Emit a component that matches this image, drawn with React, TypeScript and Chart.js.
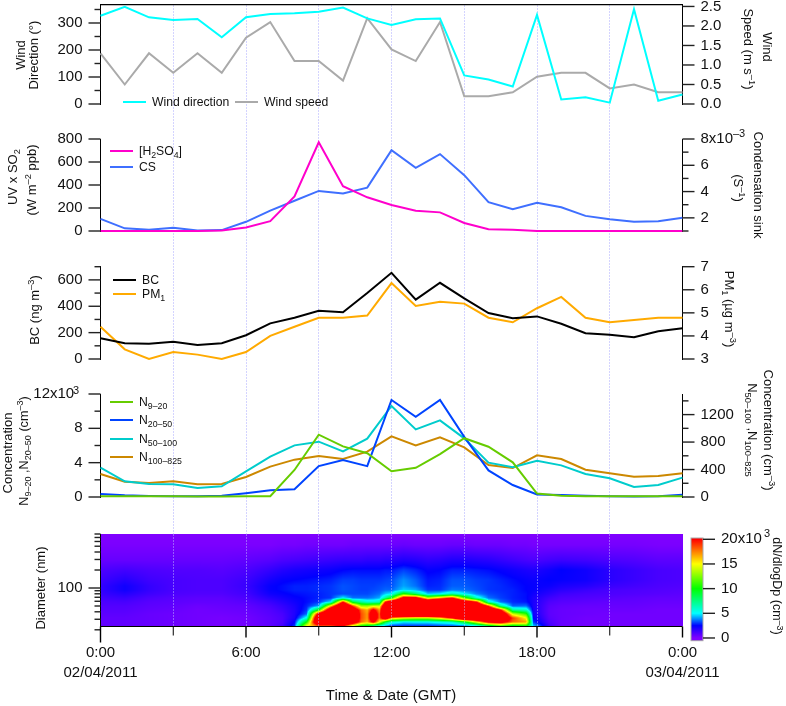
import React, { useEffect, useRef } from 'react';
import { Chart, registerables } from 'chart.js';

Chart.register(...registerables);
Chart.defaults.font.family = '"Liberation Sans", Arial, sans-serif';
Chart.defaults.color = '#111';

const hours = [0, 1, 2, 3, 4, 5, 6, 7, 8, 9, 10, 11, 12, 13, 14, 15, 16, 17, 18, 19, 20, 21, 22, 23, 24];

const windDirection = [327, 360, 321, 311, 315, 247, 321, 333, 336, 342, 357, 317, 293, 314, 317, 106, 91, 65, 330, 17, 25, 5, 351, 12, 35];
const windSpeed = [1.3, 0.5, 1.3, 0.8, 1.3, 0.8, 1.7, 2.1, 1.1, 1.1, 0.6, 2.2, 1.4, 1.1, 2.1, 0.2, 0.2, 0.3, 0.7, 0.8, 0.8, 0.4, 0.5, 0.3, 0.3];
const h2so4 = [0, 0, 0, 0, 0, 5, 30, 85, 300, 771, 390, 293, 226, 177, 162, 70, 15, 10, 0, 0, 0, 0, 0, 0, 0];
const condensationSink = [1.92, 1.2, 1.1, 1.25, 1.03, 1.07, 1.7, 2.55, 3.3, 4.05, 3.85, 4.3, 7.15, 5.8, 6.85, 5.25, 3.2, 2.65, 3.15, 2.8, 2.15, 1.9, 1.7, 1.75, 2];
const bc = [158, 120, 115, 130, 107, 120, 180, 270, 313, 366, 354, 500, 654, 450, 578, 460, 349, 310, 323, 267, 196, 183, 165, 211, 234];
const pm1 = [4.4, 3.42, 3, 3.3, 3.19, 3, 3.3, 4, 4.4, 4.79, 4.79, 4.88, 6.29, 5.3, 5.48, 5.4, 4.79, 4.59, 5.2, 5.69, 4.79, 4.59, 4.69, 4.79, 4.79];
const n9to20 = [100, 100, 90, 80, 70, 70, 80, 100, 3150, 7260, 5900, 5100, 3000, 3400, 5000, 6850, 5860, 4040, 400, 150, 100, 80, 80, 80, 100];
const n20to50 = [350, 200, 120, 80, 100, 150, 450, 800, 900, 3600, 4300, 3600, 11300, 9350, 11300, 7000, 3100, 1400, 300, 230, 150, 80, 50, 100, 270];
const n50to100 = [427, 228, 189, 184, 131, 155, 374, 587, 752, 806, 665, 850, 1325, 985, 1116, 854, 500, 432, 529, 461, 335, 272, 146, 175, 282];
const n100to825 = [335, 223, 204, 228, 184, 189, 291, 442, 544, 597, 553, 660, 883, 752, 869, 723, 466, 422, 607, 553, 398, 345, 296, 306, 345];

// size distribution, dN/dlogDp in 10^3 cm-3: one row per time, top diameter first
const diameters = [800, 524, 294, 200, 136, 108, 92.6, 79.4, 68, 58.3, 50, 42.9, 36.8, 31.5, 27, 23.2];
const sizeTimes = [0, 1, 2, 3, 4, 5, 6, 7, 7.5, 8, 8.5, 9, 9.5, 10, 10.4, 10.75, 11, 11.25, 11.5, 11.75, 12, 12.5, 13, 13.5, 14, 14.5, 15, 15.5, 16, 16.5, 17, 17.55, 17.85, 18.5, 19, 20, 21, 22, 23, 24];
const dNdlogDp = [
  [0, 0.1, 0.5, 1, 1.3, 1.5, 1.5, 1.4, 1.2, 1, 0.9, 0.8, 0.7, 0.6, 0.6, 0.6],
  [0, 0.1, 0.5, 1.2, 1.8, 2.2, 2.2, 1.8, 1.4, 1.1, 0.9, 0.8, 0.7, 0.6, 0.6, 0.6],
  [0, 0.1, 0.5, 1, 1.3, 1.5, 1.5, 1.3, 1, 0.8, 0.7, 0.6, 0.5, 0.5, 0.5, 0.5],
  [0, 0.1, 0.5, 0.9, 1.1, 1.1, 1.1, 1, 0.8, 0.7, 0.6, 0.5, 0.4, 0.4, 0.4, 0.4],
  [0, 0.1, 0.5, 0.9, 1, 1, 1, 0.9, 0.7, 0.6, 0.4, 0.3, 0.3, 0.3, 0.3, 0.3],
  [0, 0.1, 0.5, 0.8, 1, 1, 1, 0.9, 0.7, 0.6, 0.5, 0.4, 0.3, 0.2, 0.2, 0.2],
  [0, 0.1, 0.6, 1, 1.3, 1.4, 1.3, 1.2, 1, 0.8, 0.6, 0.5, 0.4, 0.3, 0.3, 0.3],
  [0, 0.1, 0.8, 1.5, 2.1, 2.4, 2.4, 2.2, 1.8, 1.4, 1.1, 0.9, 0.8, 0.7, 0.7, 0.7],
  [0, 0.2, 1, 1.8, 2.4, 2.6, 2.6, 2.4, 2.1, 1.8, 1.5, 1.3, 1.1, 1, 1, 1.2],
  [0, 0.2, 1.1, 2, 2.5, 2.8, 2.8, 2.6, 2.4, 2.2, 2, 1.9, 1.9, 2, 2.5, 3],
  [0, 0.3, 1.2, 2.1, 2.6, 2.8, 2.8, 2.7, 2.6, 2.6, 2.8, 3, 3.5, 5.5, 10, 15],
  [0, 0.3, 1.3, 2.2, 2.7, 2.9, 2.9, 2.8, 2.8, 3, 4, 10, 22, 27, 27, 18],
  [0, 0.3, 1.4, 2.3, 2.8, 3, 3, 3, 3, 5, 16, 25, 28, 28, 27, 18],
  [0, 0.3, 1.5, 2.5, 3.1, 3.3, 3.3, 3.2, 5, 20, 28, 30, 30, 30, 28, 20],
  [0, 0.4, 1.5, 2.6, 3.1, 3.2, 3.2, 3.2, 3.6, 9, 19, 24, 26, 26, 24, 14],
  [0, 0.4, 1.5, 2.6, 3, 3.1, 3.1, 3.2, 3.6, 7, 13, 18, 18.5, 18.5, 18, 10],
  [0, 0.4, 1.6, 2.6, 3, 3.1, 3.1, 3.2, 3.6, 6, 13, 16.5, 17, 17, 16.5, 9],
  [0, 0.4, 1.6, 2.6, 3, 3.1, 3.2, 3.4, 3.8, 6, 14, 21, 24, 24, 21, 7],
  [0, 0.4, 1.6, 2.6, 3, 3.2, 3.3, 3.6, 4.2, 6.5, 14, 17, 18, 18, 15, 5.5],
  [0, 0.4, 1.7, 2.7, 3.1, 3.3, 3.5, 4.5, 7, 20, 26, 28, 28, 24, 9, 4],
  [0, 0.4, 1.7, 2.7, 3.2, 3.3, 3.5, 5, 10, 24, 30, 30, 30, 17, 6, 3],
  [0, 0.5, 1.9, 3.1, 3.9, 4.1, 4.6, 11, 22, 30, 30, 30, 30, 15, 4.8, 3],
  [0, 0.4, 1.8, 2.8, 3.4, 3.6, 4.2, 8, 22, 30, 30, 30, 30, 14, 5, 3],
  [0, 0.4, 1.6, 2.4, 2.7, 2.8, 3, 4.5, 14, 27, 30, 30, 30, 14, 5, 3],
  [0, 0.4, 1.7, 2.5, 2.8, 2.9, 3, 5, 17, 30, 30, 30, 30, 16, 5.5, 3.2],
  [0, 0.5, 1.9, 2.8, 3.3, 3.4, 3.7, 6.5, 20, 30, 30, 30, 30, 20, 6, 3.3],
  [0, 0.5, 1.9, 2.8, 3.3, 3.4, 3.6, 5, 12, 24, 30, 30, 30, 27, 9, 3.5],
  [0, 0.4, 1.8, 2.7, 3.1, 3.2, 3.3, 3.8, 6, 20, 28, 30, 30, 28, 15, 4.5],
  [0, 0.4, 1.7, 2.6, 3, 3, 3, 3.2, 3.6, 6, 19, 27, 28, 27, 21, 8],
  [0, 0.4, 1.5, 2.4, 2.8, 2.9, 2.9, 3, 3.1, 3.6, 7, 20, 26, 26, 22, 11],
  [0, 0.3, 1.3, 2.2, 2.6, 2.7, 2.8, 2.8, 2.8, 2.9, 3.4, 7, 14, 19, 18, 9],
  [0, 0.3, 1.1, 2, 2.4, 2.5, 2.5, 2.6, 2.6, 2.7, 3.6, 6, 11, 15, 17, 10],
  [0, 0.2, 1, 1.9, 2.3, 2.4, 2.4, 2.2, 2, 2, 2, 2.1, 2.2, 2.5, 3, 4.5],
  [0, 0.2, 1.2, 2.2, 2.5, 2.3, 2, 1.7, 1.3, 1, 0.8, 0.7, 0.7, 0.8, 1, 1.3],
  [0, 0.2, 1.3, 2.5, 2.4, 2, 1.7, 1.3, 1, 0.8, 0.6, 0.5, 0.5, 0.5, 0.5, 0.5],
  [0, 0.2, 1.2, 2.2, 2.2, 1.8, 1.4, 1.1, 0.9, 0.7, 0.5, 0.4, 0.4, 0.3, 0.3, 0.3],
  [0, 0.2, 1, 1.7, 1.7, 1.4, 1.1, 1, 0.8, 0.6, 0.5, 0.4, 0.3, 0.3, 0.3, 0.3],
  [0, 0.2, 0.9, 1.4, 1.4, 1.2, 1, 0.9, 0.7, 0.6, 0.5, 0.4, 0.3, 0.3, 0.3, 0.3],
  [0, 0.1, 0.7, 1.1, 1.1, 1, 0.9, 0.8, 0.6, 0.5, 0.4, 0.3, 0.3, 0.3, 0.3, 0.3],
  [0, 0.1, 0.7, 1, 1, 0.9, 0.8, 0.7, 0.6, 0.5, 0.4, 0.3, 0.3, 0.3, 0.3, 0.3],
];
const colorStops = [0, 2.5, 5, 10, 15, 20];
const colorValues = [[128, 0, 255], [0, 0, 255], [0, 255, 255], [0, 255, 0], [255, 255, 0], [255, 0, 0]];
const diameterTicks = [20, 30, 40, 50, 60, 70, 80, 90, 100, 200, 300, 400, 500, 600, 700, 800];
const colorbarTicks = [0, 5, 10, 15, 20];

const PLOT_LEFT = 100.5;
const PLOT_RIGHT = 682.5;
const TICK_FONT = { size: 15 };

function rainbow(v: number) {
  const c = Math.max(0, Math.min(20, v));
  let i = 0;
  while (i < colorStops.length - 2 && c > colorStops[i + 1]) i++;
  const t = (c - colorStops[i]) / (colorStops[i + 1] - colorStops[i]);
  const a = colorValues[i];
  const b = colorValues[i + 1];
  return `rgb(${a[0] + (b[0] - a[0]) * t},${a[1] + (b[1] - a[1]) * t},${a[2] + (b[2] - a[2]) * t})`;
}

// long tick when the tick has a label, short one otherwise
const axisTicks = {
  id: 'axisTicks',
  afterDraw(chart: any) {
    const { ctx } = chart;
    ctx.save();
    ctx.strokeStyle = '#222';
    ctx.lineWidth = 1.4;
    Object.values(chart.scales).forEach((scale: any) => {
      if (scale.axis !== 'y' || !scale.options.display) return;
      const isLeft = scale.options.position === 'left';
      const edge = isLeft ? scale.right : scale.left;
      scale.ticks.forEach((tick: any, i: number) => {
        const len = tick.label ? 12 : 6;
        const y = scale.getPixelForTick(i);
        ctx.beginPath();
        ctx.moveTo(edge, y);
        ctx.lineTo(isLeft ? edge - len : edge + len, y);
        ctx.stroke();
      });
    });
    ctx.restore();
  },
};

const sizeHeatmap = {
  id: 'sizeHeatmap',
  beforeDatasetsDraw(chart: any) {
    const { ctx } = chart;
    const { x, y } = chart.scales;
    const yTop = Math.round(y.getPixelForValue(diameters[0]));
    const yBottom = Math.round(y.getPixelForValue(diameters[diameters.length - 1]));
    const logD = diameters.map((d) => Math.log10(d));
    for (let px = Math.round(x.left); px < Math.round(x.right); px++) {
      const hour = x.getValueForPixel(px + 0.5);
      let i = 0;
      while (i < sizeTimes.length - 2 && hour > sizeTimes[i + 1]) i++;
      const ti = Math.max(0, Math.min(1, (hour - sizeTimes[i]) / (sizeTimes[i + 1] - sizeTimes[i])));
      for (let py = yTop; py < yBottom; py++) {
        const ld = Math.log10(y.getValueForPixel(py + 0.5));
        let j = 0;
        while (j < logD.length - 2 && ld < logD[j + 1]) j++;
        const tj = Math.max(0, Math.min(1, (logD[j] - ld) / (logD[j] - logD[j + 1])));
        const v0 = dNdlogDp[i][j] + (dNdlogDp[i][j + 1] - dNdlogDp[i][j]) * tj;
        const v1 = dNdlogDp[i + 1][j] + (dNdlogDp[i + 1][j + 1] - dNdlogDp[i + 1][j]) * tj;
        ctx.fillStyle = rainbow(v0 + (v1 - v0) * ti);
        ctx.fillRect(px, py, 1, 1);
      }
    }
  },
};

// the time axis sits at the foot of the image, tick lengths differ by hour
const timeAxis = {
  id: 'timeAxis',
  afterDraw(chart: any) {
    const { ctx } = chart;
    const { x, y } = chart.scales;
    const axisY = Math.round(y.getPixelForValue(diameters[diameters.length - 1])) + 0.5;
    ctx.save();
    ctx.strokeStyle = '#000';
    ctx.lineWidth = 1;
    ctx.beginPath();
    ctx.moveTo(x.left, axisY);
    ctx.lineTo(x.right, axisY);
    ctx.stroke();
    x.ticks.forEach((tick: any) => {
      const px = x.getPixelForValue(tick.value);
      let len = 9;
      if (tick.value % 6 === 0) len = 11;
      if (tick.value === 0) len = 16;
      ctx.lineWidth = tick.value % 6 === 0 ? 1.4 : 1;
      ctx.beginPath();
      ctx.moveTo(px, axisY);
      ctx.lineTo(px, axisY + len);
      ctx.stroke();
    });
    ctx.restore();
  },
};

const colorbar = {
  id: 'colorbar',
  beforeDatasetsDraw(chart: any) {
    const { ctx, chartArea } = chart;
    const y = chart.scales.y;
    for (let py = Math.round(chartArea.top); py < Math.round(chartArea.bottom); py++) {
      ctx.fillStyle = rainbow(y.getValueForPixel(py + 0.5));
      ctx.fillRect(chartArea.left, py, chartArea.right - chartArea.left, 1);
    }
    ctx.strokeStyle = '#aaa';
    ctx.lineWidth = 1;
    ctx.strokeRect(chartArea.left, chartArea.top, chartArea.right - chartArea.left, chartArea.bottom - chartArea.top);
  },
};

function yAxis(position: string, min: number, max: number, step: number, label: (v: number) => string) {
  return {
    position,
    min,
    max,
    afterFit(scale: any) {
      scale.width = position === 'left' ? PLOT_LEFT : 786 - PLOT_RIGHT;
    },
    grid: { drawOnChartArea: false, drawTicks: false },
    border: { display: true, color: '#000', width: 1 },
    ticks: {
      stepSize: step,
      autoSkip: false,
      includeBounds: false,
      padding: 18,
      font: TICK_FONT,
      callback: (v: number) => label(v),
    },
  };
}

function hiddenTime(withTopLine = false) {
  return {
    type: 'linear',
    min: 0,
    max: 24,
    display: withTopLine,
    position: 'top',
    ticks: { display: false },
    grid: { display: false, drawTicks: false },
    border: { display: true, color: '#000', width: 1.2 },
    afterFit(scale: any) {
      scale.height = 0;
    },
  };
}

function series(label: string, values: number[], color: string, yAxisID: string) {
  return {
    label,
    data: hours.map((h, i) => ({ x: h, y: values[i] })),
    borderColor: color,
    backgroundColor: color,
    borderWidth: 2,
    pointRadius: 0,
    tension: 0,
    clip: false,
    yAxisID,
  };
}

function linePanel(datasets: any[], y: any, y2: any, withTopLine = false) {
  return {
    type: 'line',
    data: { datasets },
    options: {
      animation: false,
      responsive: false,
      events: [],
      plugins: { legend: { display: false }, tooltip: { enabled: false } },
      scales: { x: hiddenTime(withTopLine), y, y2 },
    },
    plugins: [axisTicks],
  };
}

const windConfig = linePanel(
  [series('Wind direction', windDirection, '#00ffff', 'y'), series('Wind speed', windSpeed, '#aaaaaa', 'y2')],
  yAxis('left', 0, 368.5, 50, (v) => (v % 100 === 0 ? String(v) : '')),
  yAxis('right', 0, 2.55, 0.5, (v) => v.toFixed(1)),
  true,
);
const sulphuricConfig = linePanel(
  [series('[H2SO4]', h2so4, '#ff00cc', 'y'), series('CS', condensationSink, '#3f6fff', 'y2')],
  yAxis('left', 0, 800, 200, (v) => String(v)),
  yAxis('right', 1, 8, 1, (v) => (v % 2 ? '' : v === 8 ? '8x10' : String(v))),
);
const blackCarbonConfig = linePanel(
  [series('BC', bc, '#000000', 'y'), series('PM1', pm1, '#ffaa00', 'y2')],
  yAxis('left', 0, 700, 100, (v) => (v % 200 === 0 ? String(v) : '')),
  yAxis('right', 3, 7, 1, (v) => String(v)),
);
const concentrationConfig = linePanel(
  [
    series('N9-20', n9to20, '#66cc00', 'y'),
    series('N20-50', n20to50, '#0044ff', 'y'),
    series('N50-100', n50to100, '#00cccc', 'y2'),
    series('N100-825', n100to825, '#cc8800', 'y2'),
  ],
  yAxis('left', 0, 12000, 2000, (v) => (v % 4000 ? '' : v === 12000 ? '12x10  ' : String(v / 1000))),
  yAxis('right', 0, 1500, 200, (v) => (v % 400 ? '' : String(v))),
);

const gridConfig = {
  type: 'line',
  data: { datasets: [] },
  options: {
    animation: false,
    responsive: false,
    events: [],
    layout: { padding: { left: PLOT_LEFT, right: 786 - PLOT_RIGHT, top: 5, bottom: 80 } },
    plugins: { legend: { display: false }, tooltip: { enabled: false } },
    scales: {
      x: {
        type: 'linear',
        min: 0,
        max: 24,
        position: 'bottom',
        afterFit(scale: any) {
          scale.height = 0;
        },
        ticks: { display: false, stepSize: 3 },
        border: { display: false, dash: [2, 1] },
        grid: {
          drawTicks: false,
          color: (c: any) => (c.tick && c.tick.value % 24 === 0 ? 'rgba(0,0,0,0)' : '#d4d4ff'),
        },
      },
      y: { display: false },
    },
  },
};

const heatmapConfig = {
  type: 'scatter',
  data: {
    datasets: [
      {
        label: 'dN/dlogDp',
        data: sizeTimes.flatMap((t, i) => diameters.map((d, j) => ({ x: t, y: d, v: dNdlogDp[i][j] }))),
        pointRadius: 0,
      },
    ],
  },
  options: {
    animation: false,
    responsive: false,
    events: [],
    layout: { padding: { right: 786 - PLOT_RIGHT } },
    plugins: { legend: { display: false }, tooltip: { enabled: false } },
    scales: {
      x: {
        type: 'linear',
        min: 0,
        max: 24,
        position: 'bottom',
        afterFit(scale: any) {
          scale.height = 76.2;
        },
        border: { display: false, dash: [2, 1] },
        grid: {
          z: 1,
          drawTicks: false,
          color: (c: any) => (c.tick && c.tick.value % 24 === 0 ? 'rgba(0,0,0,0)' : 'rgba(200,200,255,0.45)'),
        },
        ticks: {
          stepSize: 3,
          autoSkip: false,
          maxRotation: 0,
          padding: 14,
          font: { size: 15, lineHeight: 1.27 },
          callback: (v: number) => {
            if (v === 0) return ['0:00', '02/04/2011'];
            if (v === 24) return ['0:00', '03/04/2011'];
            return v % 6 === 0 ? `${v}:00` : '';
          },
        },
      },
      y: {
        type: 'logarithmic',
        position: 'left',
        min: 20,
        max: 800,
        afterFit(scale: any) {
          scale.width = PLOT_LEFT;
        },
        afterBuildTicks(scale: any) {
          scale.ticks = diameterTicks.map((value) => ({ value }));
        },
        grid: { drawOnChartArea: false, drawTicks: false },
        border: { display: true, color: '#000', width: 1 },
        ticks: {
          autoSkip: false,
          padding: 18,
          font: TICK_FONT,
          callback: (v: number) => (v === 100 ? '100' : ''),
        },
      },
    },
  },
  plugins: [sizeHeatmap, axisTicks, timeAxis],
};

const colorbarConfig = {
  type: 'line',
  data: { datasets: [] },
  options: {
    animation: false,
    responsive: false,
    events: [],
    layout: { padding: { left: 691 } },
    plugins: { legend: { display: false }, tooltip: { enabled: false } },
    scales: {
      x: { display: false, type: 'linear', min: 0, max: 1 },
      y: {
        position: 'right',
        min: -0.55,
        max: 20.26,
        afterFit(scale: any) {
          scale.width = 83;
        },
        afterBuildTicks(scale: any) {
          scale.ticks = colorbarTicks.map((value) => ({ value }));
        },
        grid: { drawOnChartArea: false, drawTicks: false },
        border: { display: false },
        ticks: {
          autoSkip: false,
          padding: 18,
          font: TICK_FONT,
          callback: (v: number) => (v === 20 ? '20x10' : String(v)),
        },
      },
    },
  },
  plugins: [colorbar, axisTicks],
};

function ChartPanel({ top, bottom, config, pad = 34 }: { top: number; bottom: number; config: any; pad?: number }) {
  const ref = useRef<HTMLCanvasElement>(null);
  const canvasTop = Math.floor(top) - pad;
  const height = Math.ceil(bottom) + pad - canvasTop;
  useEffect(() => {
    if (!ref.current) return;
    const cfg = { ...config };
    if (pad) {
      cfg.options = {
        ...config.options,
        layout: {
          padding: { ...(config.options.layout?.padding || {}), top: top - canvasTop, bottom: canvasTop + height - bottom },
        },
      };
    }
    const chart = new Chart(ref.current, cfg);
    return () => chart.destroy();
  }, []);
  return (
    <canvas
      ref={ref}
      width={786}
      height={height}
      style={{ position: 'absolute', left: 0, top: canvasTop, width: 786, height }}
    />
  );
}

const sup = (t: string) => (
  <span style={{ fontSize: '0.72em', position: 'relative', top: '-0.5em', lineHeight: 0 }}>{t}</span>
);
const sub = (t: string) => (
  <span style={{ fontSize: '0.72em', position: 'relative', top: '0.3em', lineHeight: 0 }}>{t}</span>
);

function Label({ x, y, rot = 0, size = 13, children }: { x: number; y: number; rot?: number; size?: number; children: any }) {
  return (
    <div
      style={{
        position: 'absolute',
        left: x,
        top: y,
        transform: `translate(-50%,-50%) rotate(${rot}deg)`,
        whiteSpace: 'nowrap',
        lineHeight: 1,
        fontSize: size,
        fontFamily: '"Liberation Sans", Arial, sans-serif',
        color: '#111',
      }}
    >
      {children}
    </div>
  );
}

function LegendRow({ x, y, w = 23, color, children }: { x: number; y: number; w?: number; color: string; children: any }) {
  return (
    <>
      <div style={{ position: 'absolute', left: x, top: y - 1, width: w, height: 2, background: color }} />
      <div
        style={{
          position: 'absolute',
          left: x + w + 6,
          top: y - 7,
          lineHeight: '14px',
          whiteSpace: 'nowrap',
          fontSize: 12.2,
          fontFamily: '"Liberation Sans", Arial, sans-serif',
          color: '#111',
        }}
      >
        {children}
      </div>
    </>
  );
}

export default function App() {
  return (
    <div style={{ position: 'absolute', left: 0, top: 0, width: 786, height: 706, overflow: 'hidden', background: '#fff' }}>
      <ChartPanel top={0} bottom={706} config={gridConfig} pad={0} />
      <ChartPanel top={4.5} bottom={104} config={windConfig} />
      <ChartPanel top={139} bottom={231} config={sulphuricConfig} />
      <ChartPanel top={266.7} bottom={359} config={blackCarbonConfig} />
      <ChartPanel top={394} bottom={497} config={concentrationConfig} />
      <ChartPanel top={534} bottom={706} config={heatmapConfig} />
      <ChartPanel top={538} bottom={640.7} config={colorbarConfig} />

      <Label x={20} y={55} rot={-90}>Wind</Label>
      <Label x={33} y={55} rot={-90}>Direction (°)</Label>
      <Label x={12} y={177} rot={-90}>UV x SO{sub('2')}</Label>
      <Label x={31} y={180} rot={-90}>(W m{sup('–2')} ppb)</Label>
      <Label x={34} y={310} rot={-90}>BC (ng m{sup('–3')})</Label>
      <Label x={7} y={453} rot={-90}>Concentration</Label>
      <Label x={24} y={451} rot={-90} size={12.6}>N{sub('9–20')} ,N{sub('20–50')} (cm{sup('–3')})</Label>
      <Label x={40} y={588} rot={-90}>Diameter (nm)</Label>

      <Label x={767} y={47} rot={90}>Wind</Label>
      <Label x={748} y={49} rot={90}>Speed (m s{sup('–1')})</Label>
      <Label x={758} y={185} rot={90}>Condensation sink</Label>
      <Label x={738} y={188} rot={90}>(S{sup('–1')})</Label>
      <Label x={729} y={309} rot={90}>PM{sub('1')} (µg m{sup('–3')})</Label>
      <Label x={768} y={430} rot={90}>Concentration (cm{sup('–3')})</Label>
      <Label x={752} y={430} rot={90}>N{sub('50–100')} ,N{sub('100–825')}</Label>
      <Label x={777} y={586} rot={90} size={12.5}>dN/dlogDp (cm{sup('–3')})</Label>

      <Label x={391} y={694} size={15}>Time &amp; Date (GMT)</Label>

      <Label x={76} y={390} size={11}>3</Label>
      <Label x={739} y={133} size={11}>–3</Label>
      <Label x={767} y={533} size={11}>3</Label>

      <LegendRow x={123} y={102} color="#00ffff">Wind direction</LegendRow>
      <LegendRow x={235} y={102} color="#aaaaaa">Wind speed</LegendRow>
      <LegendRow x={110} y={151} color="#ff00cc">[H{sub('2')}SO{sub('4')}]</LegendRow>
      <LegendRow x={110} y={167} color="#3f6fff">CS</LegendRow>
      <LegendRow x={113} y={280} color="#000000">BC</LegendRow>
      <LegendRow x={113} y={294} color="#ffaa00">PM{sub('1')}</LegendRow>
      <LegendRow x={110} y={402} color="#66cc00">N{sub('9–20')}</LegendRow>
      <LegendRow x={110} y={420} color="#0044ff">N{sub('20–50')}</LegendRow>
      <LegendRow x={110} y={439} color="#00cccc">N{sub('50–100')}</LegendRow>
      <LegendRow x={110} y={457} color="#cc8800">N{sub('100–825')}</LegendRow>
    </div>
  );
}
